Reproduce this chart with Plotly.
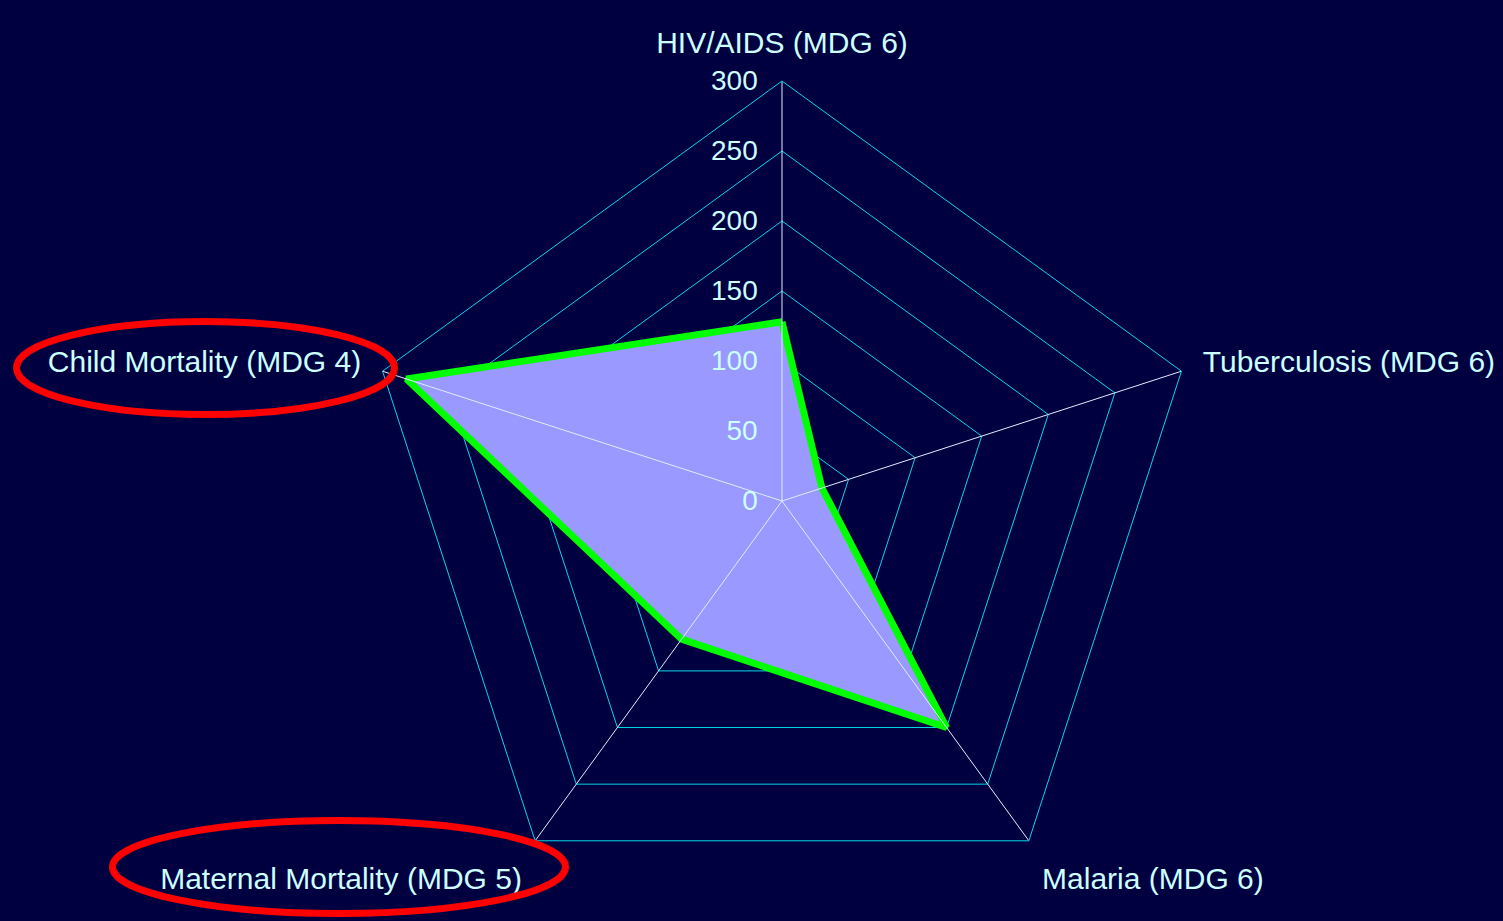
import plotly.graph_objects as go

categories = ["HIV/AIDS (MDG 6)", "Tuberculosis (MDG 6)", "Malaria (MDG 6)",
              "Maternal Mortality (MDG 5)", "Child Mortality (MDG 4)"]
values = [128, 30, 200, 122, 282]
radial_ticks = [0, 50, 100, 150, 200, 250, 300]
r_max = 300

W, H = 1503, 921
BG = "#000040"
TXT = "#CCFFFF"
GRID = "#00D8E8"
SPOKE = "#DDEEFF"

fig = go.Figure()

# filled area with green outline
fig.add_trace(go.Scatterpolar(
    r=values + values[:1], theta=categories + categories[:1],
    mode="lines", fill="toself", fillcolor="#9999FF",
    line=dict(color="#00FF00", width=7), hoverinfo="skip", showlegend=False))

# spokes drawn above the fill
for c in categories:
    fig.add_trace(go.Scatterpolar(
        r=[0, r_max], theta=[c, c], mode="lines",
        line=dict(color=SPOKE, width=1), hoverinfo="skip", showlegend=False))

cx, cy, R = 782, 501, 420
fig.update_layout(
    width=W, height=H,
    margin=dict(l=0, r=0, t=0, b=0),
    paper_bgcolor=BG, plot_bgcolor=BG,
    font=dict(family="Liberation Sans, Arial, sans-serif", color=TXT),
    showlegend=False,
    polar=dict(
        bgcolor=BG,
        gridshape="linear",
        domain=dict(x=[(cx - R) / W, (cx + R) / W], y=[0, 2 * (H - cy) / H]),
        angularaxis=dict(
            direction="clockwise", rotation=90,
            showline=True, linecolor=GRID, linewidth=1,
            showgrid=False, ticks="outside", ticklen=16,
            tickcolor="rgba(0,0,0,0)",
            tickfont=dict(size=30, color=TXT),
        ),
        radialaxis=dict(
            range=[0, r_max], tickvals=radial_ticks,
            angle=90, tickangle=90, side="counterclockwise",
            showline=False, ticks="outside", ticklen=14,
            tickcolor="rgba(0,0,0,0)",
            gridcolor=GRID, gridwidth=1,
            tickfont=dict(size=28, color=TXT),
        ),
    ),
)

def ell(x0, y0, x1, y1):
    return dict(type="circle", xref="paper", yref="paper",
                x0=x0 / W, x1=x1 / W, y0=(H - y1) / H, y1=(H - y0) / H,
                line=dict(color="#FF0000", width=7), layer="above")

fig.update_layout(shapes=[ell(16.5, 321.5, 394.5, 414.5),
                          ell(112.5, 820.5, 565.5, 913.5)])

fig.write_html("out.html",
               config={"displayModeBar": False},
               post_script="document.body.style.margin='0';"
                           "document.body.style.background='#000040';")
